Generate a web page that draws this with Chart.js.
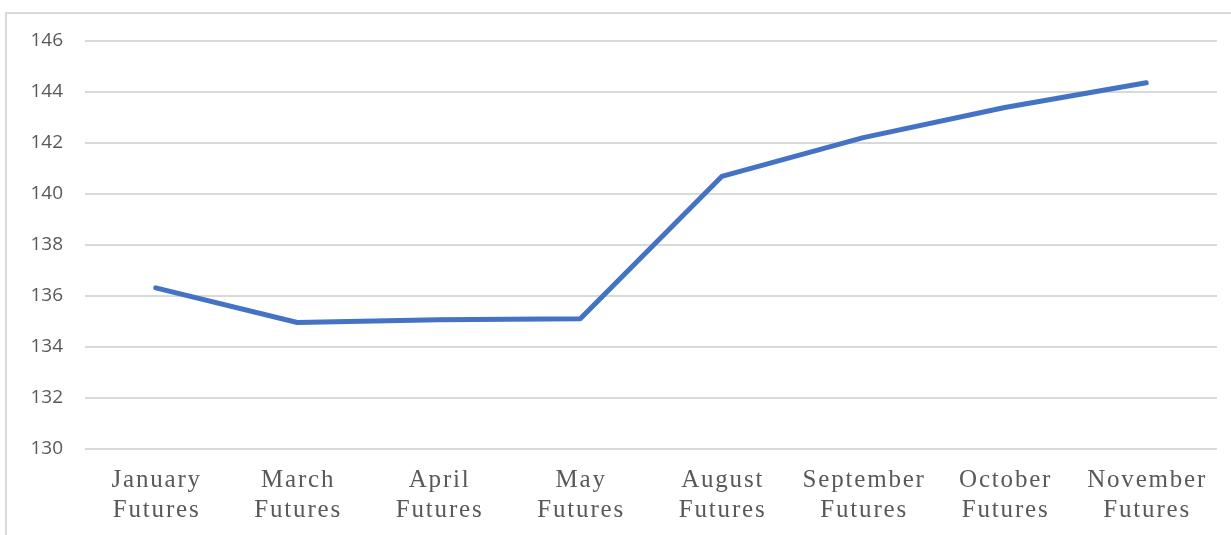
<!DOCTYPE html>
<html>
<head>
<meta charset="utf-8">
<script src="https://cdn.jsdelivr.net/npm/chart.js@4.4.1/dist/chart.umd.min.js"></script>
<style>
  html, body { margin: 0; padding: 0; background: #ffffff; overflow: hidden; }
  #frame { position: absolute; left: 5px; top: 12px; width: 1300px; height: 700px; border: 2px solid #d9d9d9; box-sizing: border-box; }
  #wrap { position: absolute; left: 0; top: 0; width: 1231px; height: 535px; }
</style>
</head>
<body>
<div id="frame"></div>
<div id="wrap"><canvas id="c" width="1231" height="535"></canvas></div>
<script>
const categories = [
  ["January", "Futures"],
  ["March", "Futures"],
  ["April", "Futures"],
  ["May", "Futures"],
  ["August", "Futures"],
  ["September", "Futures"],
  ["October", "Futures"],
  ["November", "Futures"]
];
const prices = [136.32, 134.96, 135.07, 135.11, 140.69, 142.21, 143.39, 144.36];
const yMin = 130, yMax = 146, yStep = 2;

const spacedXLabels = {
  id: 'spacedXLabels',
  beforeDraw(chart) {
    const sx = chart.scales.x;
    if (sx && !sx._spaced) {
      const orig = sx.drawLabels.bind(sx);
      sx.drawLabels = function (area) {
        const ctx = this.ctx;
        ctx.save();
        ctx.letterSpacing = '1.8px';
        ctx.translate(0.9, 0);
        orig(area);
        ctx.restore();
      };
      sx._spaced = true;
    }
  }
};

new Chart(document.getElementById('c'), {
  type: 'line',
  data: {
    labels: categories,
    datasets: [{
      data: prices,
      borderColor: '#4472C4',
      borderWidth: 5,
      pointRadius: 0,
      pointHoverRadius: 0,
      tension: 0,
      fill: false,
      borderCapStyle: 'round',
      borderJoinStyle: 'round'
    }]
  },
  plugins: [spacedXLabels],
  options: {
    responsive: false,
    animation: false,
    layout: { padding: { left: 0, right: 14, top: 41, bottom: 0 } },
    plugins: { legend: { display: false }, tooltip: { enabled: false } },
    scales: {
      x: {
        offset: true,
        afterFit: (s) => { s.height = 86; },
        grid: { display: false, drawTicks: false },
        border: { display: false },
        ticks: {
          color: '#595959',
          font: { family: '"Liberation Serif", "Times New Roman", serif', size: 25, lineHeight: 1.2 },
          padding: 16,
          maxRotation: 0,
          autoSkip: false
        }
      },
      y: {
        min: yMin,
        max: yMax,
        afterFit: (s) => { s.width = 85; },
        grid: { color: '#d9d9d9', lineWidth: 2, drawTicks: false },
        border: { display: false },
        ticks: {
          stepSize: yStep,
          color: '#595959',
          font: { family: '"Open Sans", "Liberation Sans", sans-serif', size: 19 },
          padding: 22
        }
      }
    }
  }
});
</script>
</body>
</html>
